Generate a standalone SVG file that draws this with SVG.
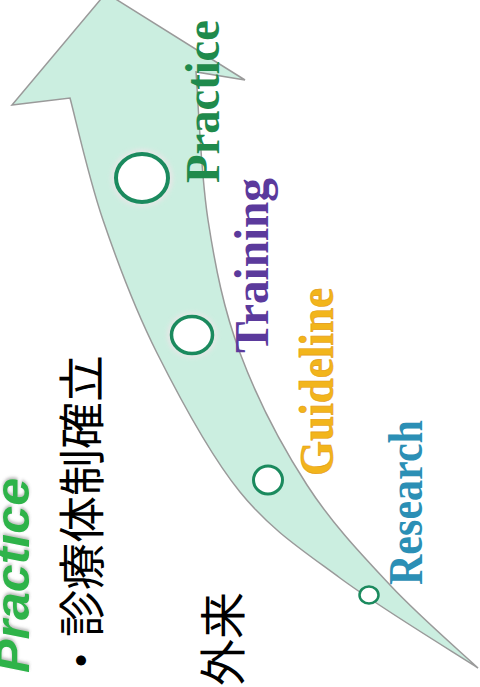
<svg xmlns="http://www.w3.org/2000/svg" width="480" height="687" viewBox="0 0 480 687">
  <defs>
    <style>
      .ser { font-family: "Liberation Serif", "Times New Roman", serif; font-weight: bold; font-size: 48px; }
      .cjk { font-family: "Noto Sans CJK JP", "Noto Sans CJK SC", sans-serif; font-size: 47px; fill: #000; }
      .dot { fill: #ffffff; stroke: #1b8a5e; }
    </style>
    <filter id="sh" x="-20%" y="-20%" width="140%" height="140%">
      <feDropShadow dx="2" dy="0" stdDeviation="1.5" flood-color="#666" flood-opacity="0.45"/>
    </filter>
    <filter id="glow" x="-50%" y="-50%" width="200%" height="200%">
      <feGaussianBlur stdDeviation="2"/>
    </filter>
  </defs>
  <rect width="480" height="687" fill="#ffffff"/>

  <g id="arrow">
    <path d="M 106,-7 L 245,80 L 196,72 C 198,96.7 200.7,173.2 208,220 C 215.3,266.8 223.5,308.8 240,353 C 256.5,397.2 282,446.3 307,485 C 332,523.7 361.5,554.5 390,585 C 418.5,615.5 463.3,654.2 478,668 C 455,653 379.7,607.3 340,578 C 300.3,548.7 270.5,529.5 240,492 C 209.5,454.5 179.8,398.3 157,353 C 134.2,307.7 117.5,262.5 103,220 C 88.5,177.5 75.5,118.3 70,98 L 12,105 Z" fill="#cbeee0" stroke="#9a9a9a" stroke-width="1.5" stroke-linejoin="miter"/>
  </g>

  <g id="node-practice">
    <ellipse cx="142" cy="178" rx="31" ry="29" fill="#f6e3ea" opacity="0.6" filter="url(#glow)"/>
    <ellipse class="dot" cx="142" cy="178" rx="26" ry="24" stroke-width="4"/>
    <text class="ser" fill="#1f8a4c" transform="translate(219,183) rotate(-90)" textLength="163" lengthAdjust="spacingAndGlyphs">Practice</text>
  </g>

  <g id="node-training">
    <ellipse cx="192" cy="335" rx="25" ry="23" fill="#f6e3ea" opacity="0.6" filter="url(#glow)"/>
    <ellipse class="dot" cx="192" cy="335" rx="20.5" ry="18.5" stroke-width="3.5"/>
    <text class="ser" fill="#5b3a9c" transform="translate(268,353) rotate(-90)" textLength="175" lengthAdjust="spacingAndGlyphs">Training</text>
  </g>

  <g id="node-guideline">
    <ellipse class="dot" cx="268" cy="480" rx="14.5" ry="14" stroke-width="3"/>
    <text class="ser" fill="#f2b51c" stroke="#e59a10" stroke-width="0.6" font-size="50" transform="translate(333,476) rotate(-90)" textLength="188" lengthAdjust="spacingAndGlyphs">Guideline</text>
  </g>

  <g id="node-research">
    <ellipse class="dot" cx="369" cy="595" rx="9.5" ry="8.5" stroke-width="2.5"/>
    <text class="ser" fill="#2b8fb5" transform="translate(422,585) rotate(-90)" textLength="165" lengthAdjust="spacingAndGlyphs">Research</text>
  </g>

  <g id="labels">
    <text font-family="'Liberation Sans', Arial, sans-serif" font-weight="bold" font-style="italic" font-size="48" fill="#2db34a" filter="url(#sh)" transform="translate(29,673) rotate(-90)" textLength="195" lengthAdjust="spacingAndGlyphs">Practice</text>
    <text class="cjk" transform="translate(99,684) rotate(-90)">・診療体制確立</text>
    <text class="cjk" transform="translate(240,686) rotate(-90)">外来</text>
  </g>
</svg>
